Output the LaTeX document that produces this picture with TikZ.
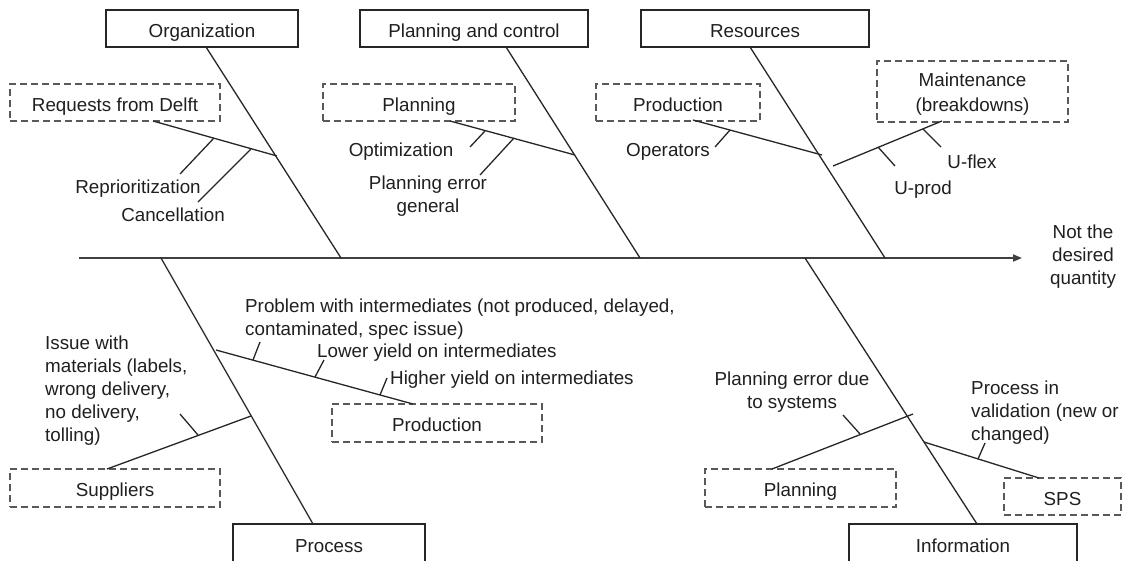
\documentclass[tikz,border=0pt]{standalone}
\usepackage{fontspec}
\setmainfont{Liberation Sans}
\usetikzlibrary{arrows.meta,calc}

\begin{document}
\begin{tikzpicture}[x=1pt,y=-1pt,
  every node/.style={inner sep=0pt,text=black!88,font=\fontsize{18.8}{23}\selectfont},
  causebox/.style={draw=black!85,line width=1.4pt,fill=white,rectangle,text height=17.6pt,text depth=0pt},
  subbox/.style={draw=black!65,line width=1.4pt,dash pattern=on 7pt off 4pt,rectangle,text height=17.6pt,text depth=0pt},
  bone/.style={draw=black!85,line width=1.3pt},
  spine/.style={draw=black!75,line width=1.8pt},
  tick/.style={draw=black!85,line width=1.3pt},
  txt/.style={yshift=-2pt},
  lbl/.style={txt,align=center},
  lbll/.style={txt,align=left,anchor=west}]
\useasboundingbox (0,0) rectangle (1123,560);

% ---------- main spine ----------
\coordinate (spinestart) at (79,258);
\node[lbl] (effect) at (1083,255) {Not the\\desired\\quantity};
\coordinate (spineend) at (1022,258);
\draw[spine,-{Triangle[length=9pt,width=7pt]}] (spinestart) -- (spineend);

% ---------- category boxes ----------
\node[causebox,minimum width=192,minimum height=37] (org) at (202,28.5) {Organization};
\node[causebox,minimum width=228,minimum height=37] (plc) at (474,28.5) {Planning and control};
\node[causebox,minimum width=228,minimum height=37] (res) at (755,28.5) {Resources};
\node[causebox,minimum width=192,minimum height=40] (proc) at (329,544) {Process};
\node[causebox,minimum width=228,minimum height=40] (info) at (963,544) {Information};

% ---------- main bones ----------
\coordinate (orgtop) at (206,47);   \coordinate (orgend) at (341,258);
\coordinate (plctop) at (506,47);   \coordinate (plcend) at (640,258);
\coordinate (restop) at (750,47);   \coordinate (resend) at (885,258);
\coordinate (procbot) at (313,524); \coordinate (procend) at (161,258);
\coordinate (infobot) at (977,524); \coordinate (infoend) at (805,258);
\draw[bone] (orgtop) -- (orgend);
\draw[bone] (plctop) -- (plcend);
\draw[bone] (restop) -- (resend);
\draw[bone] (procbot) -- (procend);
\draw[bone] (infobot) -- (infoend);

% ---------- sub-cause boxes ----------
\node[subbox,minimum width=210,minimum height=37] (delft) at (115,102.5) {Requests from Delft};
\node[subbox,minimum width=192,minimum height=37] (plan1) at (419,102.5) {Planning};
\node[subbox,minimum width=164,minimum height=37] (prod1) at (678,102.5) {Production};
\node[subbox,minimum width=191,minimum height=61] (maint) at (972.5,91.5) {};
\node[lbl,font=\fontsize{18.8}{25}\selectfont] (mainttext) at (972.5,92) {Maintenance\\(breakdowns)};
\node[subbox,minimum width=210,minimum height=38] (supp) at (115,488) {Suppliers};
\node[subbox,minimum width=210,minimum height=38] (prod2) at (437,423) {Production};
\node[subbox,minimum width=191,minimum height=38] (plan2) at (800.5,488) {Planning};
\node[subbox,minimum width=117,minimum height=37] (sps) at (1062.5,496.5) {SPS};

% ---------- sub-bones ----------
\coordinate (delfta) at (153,121);  \coordinate (delftb) at (277,156);
\coordinate (plan1a) at (450,121);  \coordinate (plan1b) at (575,155);
\coordinate (prod1a) at (693,120);  \coordinate (prod1b) at (822,155);
\coordinate (mainta) at (942,121);  \coordinate (maintb) at (833,166);
\coordinate (suppa) at (107,469);   \coordinate (suppb) at (251,416);
\coordinate (prod2a) at (413,404);  \coordinate (prod2b) at (216,350);
\coordinate (plan2a) at (772,469);  \coordinate (plan2b) at (913,414);
\coordinate (spsa) at (1039,478);   \coordinate (spsb) at (924,442);
\draw[bone] (delfta) -- (delftb);
\draw[bone] (plan1a) -- (plan1b);
\draw[bone] (prod1a) -- (prod1b);
\draw[bone] (mainta) -- (maintb);
\draw[bone] (suppa) -- (suppb);
\draw[bone] (prod2a) -- (prod2b);
\draw[bone] (plan2a) -- (plan2b);
\draw[bone] (spsa) -- (spsb);

% ---------- cause labels ----------
\node[txt] (reprio) at (138,187) {Reprioritization};
\node[txt] (cancel) at (173,213) {Cancellation};
\node[txt] (optim) at (401,150) {Optimization};
\node[lbl] (plerr) at (428,194) {Planning error\\general};
\node[txt] (oper) at (668,150) {Operators};
\node[txt] (uflex) at (972,160) {U-flex};
\node[txt] (uprod) at (923,188) {U-prod};
\node[lbll] (issue) at (45,389) {Issue with\\materials (labels,\\wrong delivery,\\no delivery,\\tolling)};
\node[lbll] (problem) at (245,317) {Problem with intermediates (not produced, delayed,\\contaminated, spec issue)};
\node[lbll] (lower) at (317,351) {Lower yield on intermediates};
\node[lbll] (higher) at (390,378) {Higher yield on intermediates};
\node[lbl] (plsys) at (792,390.5) {Planning error due\\to systems};
\node[lbll] (valid) at (971,411) {Process in\\validation (new or\\changed)};

% ---------- ticks from bones to labels ----------
\coordinate (treprio) at (180,174);  \draw[tick] (214,138) -- (treprio);
\coordinate (tcancel) at (198,202);  \draw[tick] (251,149) -- (tcancel);
\coordinate (toptim) at (470,147);   \draw[tick] (485,131) -- (toptim);
\coordinate (tplerr) at (480,175);   \draw[tick] (514,138) -- (tplerr);
\coordinate (toper) at (715,147);    \draw[tick] (730,130) -- (toper);
\coordinate (tuprod) at (895,166);   \draw[tick] (878,147) -- (tuprod);
\coordinate (tuflex) at (941,147);   \draw[tick] (923,129) -- (tuflex);
\coordinate (tissue) at (180,414);   \draw[tick] (198,435) -- (tissue);
\coordinate (tproblem) at (260,342); \draw[tick] (253,360) -- (tproblem);
\coordinate (tlower) at (324,360);   \draw[tick] (315,377) -- (tlower);
\coordinate (thigher) at (387,378);  \draw[tick] (380,395) -- (thigher);
\coordinate (tplsys) at (843,415);   \draw[tick] (860,434) -- (tplsys);
\coordinate (tvalid) at (985,443);   \draw[tick] (978,459) -- (tvalid);
\end{tikzpicture}
\end{document}
